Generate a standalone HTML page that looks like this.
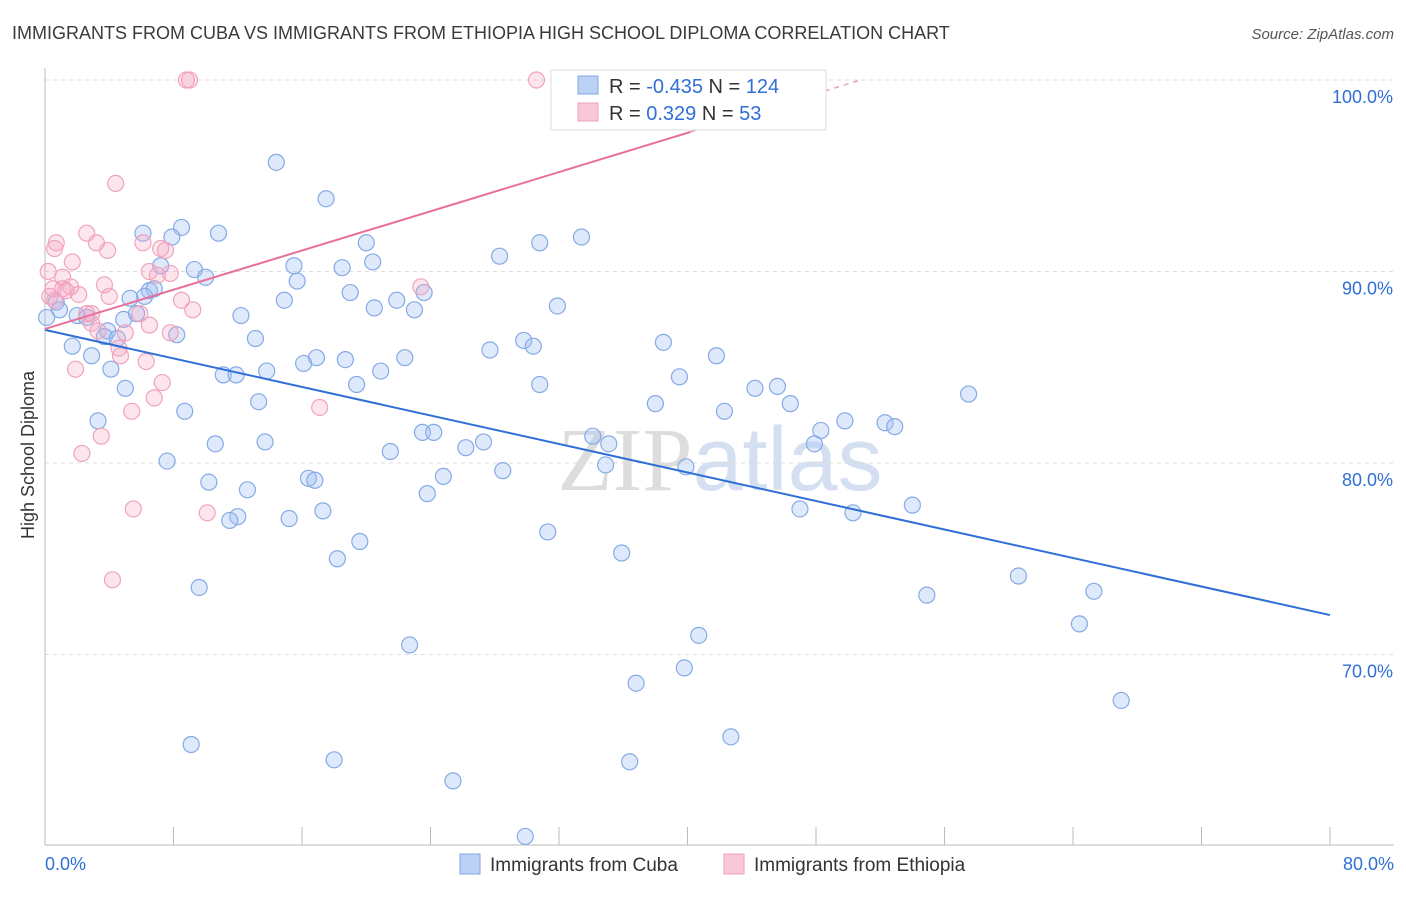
<!DOCTYPE html>
<html><head><meta charset="utf-8"><style>
body{margin:0;background:#fff;font-family:"Liberation Sans",sans-serif}
svg text{font-family:"Liberation Sans",sans-serif}
</style></head><body>
<svg id="chart" width="1406" height="892" xmlns="http://www.w3.org/2000/svg">
<text x="12" y="39" font-size="18" fill="#3a3a3a">IMMIGRANTS FROM CUBA VS IMMIGRANTS FROM ETHIOPIA HIGH SCHOOL DIPLOMA CORRELATION CHART</text>
<text x="1394" y="39" font-size="15" fill="#555" font-style="italic" text-anchor="end">Source: ZipAtlas.com</text>
<text x="720" y="490" font-size="90" fill="#d8d8d8" text-anchor="middle" opacity="0.6"><tspan font-family="Liberation Serif" fill="#c8c8c8">ZIP</tspan><tspan fill="#b8cdea">atlas</tspan></text>
<g id="grid"></g>
<g id="axes"></g>
<g id="marks"></g>
<text transform="translate(34,455) rotate(-90)" font-size="18" fill="#333" text-anchor="middle">High School Diploma</text>
<g>
<rect x="551" y="70" width="275" height="60" fill="#fff" stroke="#ddd"/>
<rect x="578" y="76" width="20" height="18" fill="#bcd2f5" stroke="#7fa6e6"/>
<rect x="578" y="103" width="20" height="18" fill="#f9c9d8" stroke="#f0a0bb"/>
<text x="609" y="93" font-size="20" fill="#333">R = <tspan fill="#2f6fd6">-0.435</tspan>   N = <tspan fill="#2f6fd6">124</tspan></text>
<text x="609" y="120" font-size="20" fill="#333">R =   <tspan fill="#2f6fd6">0.329</tspan>   N =   <tspan fill="#2f6fd6">53</tspan></text>
</g>
<g>
<rect x="460" y="854" width="20" height="20" fill="#bcd2f5" stroke="#7fa6e6"/>
<text x="490" y="871" font-size="19" fill="#333">Immigrants from Cuba</text>
<rect x="724" y="854" width="20" height="20" fill="#f9c9d8" stroke="#f0a0bb"/>
<text x="754" y="871" font-size="19" fill="#333">Immigrants from Ethiopia</text>
</g>
</svg>
<script>
const cubaX=[14.4,17.5,8.5,6.1,7.9,10.8,20.0,30.8,33.4,28.3,20.4,15.5,18.5,7.2,9.3,10.0,15.7,6.5,6.8,5.3,6.2,19.0,14.9,21.9,23.6,20.5,23.0,31.9,0.7,0.9,0.1,2.0,2.6,4.9,5.7,12.2,3.9,3.7,4.5,8.2,13.1,1.7,2.9,29.8,30.4,27.7,38.5,41.8,16.9,18.7,22.4,16.1,4.1,11.1,11.9,13.8,20.9,19.4,30.8,39.5,5.0,44.2,45.6,57.5,13.3,8.7,38.0,42.3,46.4,3.3,23.5,24.2,34.1,10.6,13.7,26.2,27.3,35.1,48.3,49.8,52.3,52.9,47.9,7.6,21.5,34.9,39.9,28.5,10.2,16.4,16.8,24.8,12.6,23.8,17.3,12.0,11.5,15.2,47.0,50.3,54.0,31.3,19.6,18.2,35.9,60.6,65.3,54.9,9.6,64.4,40.7,22.7,39.8,36.8,67.0,42.7,9.1,18.0,36.4,25.4,29.9];
const cubaY=[95.7,93.8,92.3,92.0,91.8,92.0,91.5,91.5,91.8,90.8,90.5,90.3,90.2,90.3,90.1,89.7,89.5,89.0,89.1,88.6,88.7,88.9,88.5,88.5,88.9,88.1,88.0,88.2,88.4,88.0,87.6,87.7,87.6,87.5,87.8,87.7,86.9,86.6,86.5,86.7,86.5,86.1,85.6,86.4,86.1,85.9,86.3,85.6,85.5,85.4,85.5,85.2,84.9,84.6,84.6,84.8,84.8,84.1,84.1,84.5,83.9,83.9,84.0,83.6,83.2,82.7,83.1,82.7,83.1,82.2,81.6,81.6,81.4,81.0,81.1,80.8,81.1,81.0,81.7,82.2,82.1,81.9,81.0,80.1,80.6,79.9,79.8,79.6,79.0,79.2,79.1,79.3,78.6,78.4,77.5,77.2,77.0,77.1,77.6,77.4,77.8,76.4,75.9,75.0,75.3,74.1,73.3,73.1,73.5,71.6,71.0,70.5,69.3,68.5,67.6,65.7,65.3,64.5,64.4,63.4,60.5];
const ethX=[8.8,9.0,30.6,33.0,4.4,0.7,0.6,2.6,3.2,3.9,6.1,7.2,7.5,1.7,0.2,1.1,6.5,7.0,7.8,1.1,1.6,1.3,3.7,2.1,4.0,0.3,0.6,8.5,9.2,23.4,2.6,5.9,2.9,6.5,7.8,5.0,4.6,4.7,6.3,1.9,7.3,6.8,5.4,17.1,3.5,2.3,5.5,10.1,4.2,2.9,0.5,3.3];
const ethY=[100,100,100,100,94.6,91.5,91.2,92.0,91.5,91.1,91.5,91.2,91.1,90.5,90.0,89.7,90.0,89.8,89.9,89.1,89.2,89.0,89.3,88.8,88.7,88.7,88.5,88.5,88.0,89.2,87.8,87.8,87.3,87.2,86.8,86.8,86.0,85.6,85.3,84.9,84.2,83.4,82.7,82.9,81.4,80.5,77.6,77.4,73.9,87.8,89.1,86.9];
const xTicks=[0,8,16,24,32,40,48,56,64,72,80];
const yTicks=[100,90,80,70];
const yTickLabels=["100.0%","90.0%","80.0%","70.0%"];
const cubaTrend=[86.95,72.06];
const ethTrend=[87.0,0.256];

const X=v=>45+v*1285/80;
const Y=v=>80+(100-v)*19.15;
const NS="http://www.w3.org/2000/svg";
function mk(parent,tag,attrs){const e=document.createElementNS(NS,tag);for(const k in attrs)e.setAttribute(k,attrs[k]);document.getElementById(parent).appendChild(e);return e;}

yTicks.forEach((t,i)=>{
 const l=mk('grid','line',{x1:45,x2:1394,y1:Y(t),y2:Y(t),stroke:'#ddd','stroke-dasharray':'4,4'});
 
 
 const tx=mk('axes','text',{x:1393,y:Y(t)+23,'font-size':18,fill:'#2f6fd6','text-anchor':'end'});
 tx.textContent=yTickLabels[i];
 
 
});
const ax=mk('axes','line',{x1:45,x2:45,y1:68,y2:845,stroke:'#bbb'});


const bx=mk('axes','line',{x1:45,x2:1394,y1:845,y2:845,stroke:'#bbb'});


xTicks.forEach(t=>{
 const l=mk('axes','line',{x1:X(t),x2:X(t),y1:827,y2:845,stroke:'#bbb'});
 
 
});
[[0,'0.0%','start',45],[80,'80.0%','end',1394]].forEach(([v,s,a,px])=>{
 const t=mk('axes','text',{x:px,y:870,'font-size':18,fill:'#2f6fd6','text-anchor':a});
 t.textContent=s;
 
 
});

cubaX.forEach((x,i)=>{
 const c=mk('marks','circle',{cx:X(x),cy:Y(cubaY[i]),r:8,fill:'rgba(160,192,244,0.35)',stroke:'#86aae6','stroke-width':1.2});
 
 
});
ethX.forEach((x,i)=>{
 const c=mk('marks','circle',{cx:X(x),cy:Y(ethY[i]),r:8,fill:'rgba(246,170,196,0.3)',stroke:'#f0a3bd','stroke-width':1.2});
 
 
});
const tl=mk('marks','line',{x1:X(0),y1:Y(cubaTrend[0]),x2:X(80),y2:Y(cubaTrend[1]),stroke:'#2f6fd6','stroke-width':2});


const xs=40.2, xe=(100-ethTrend[0])/ethTrend[1];
const pl=mk('marks','line',{x1:X(0),y1:Y(ethTrend[0]),x2:X(xs),y2:Y(ethTrend[0]+ethTrend[1]*xs),stroke:'#e8709a','stroke-width':2});


const pd=mk('marks','line',{x1:X(xs),y1:Y(ethTrend[0]+ethTrend[1]*xs),x2:X(xe),y2:Y(100),stroke:'#e8a0b8','stroke-width':1.5,'stroke-dasharray':'5,5'});


</script>
</body></html>
